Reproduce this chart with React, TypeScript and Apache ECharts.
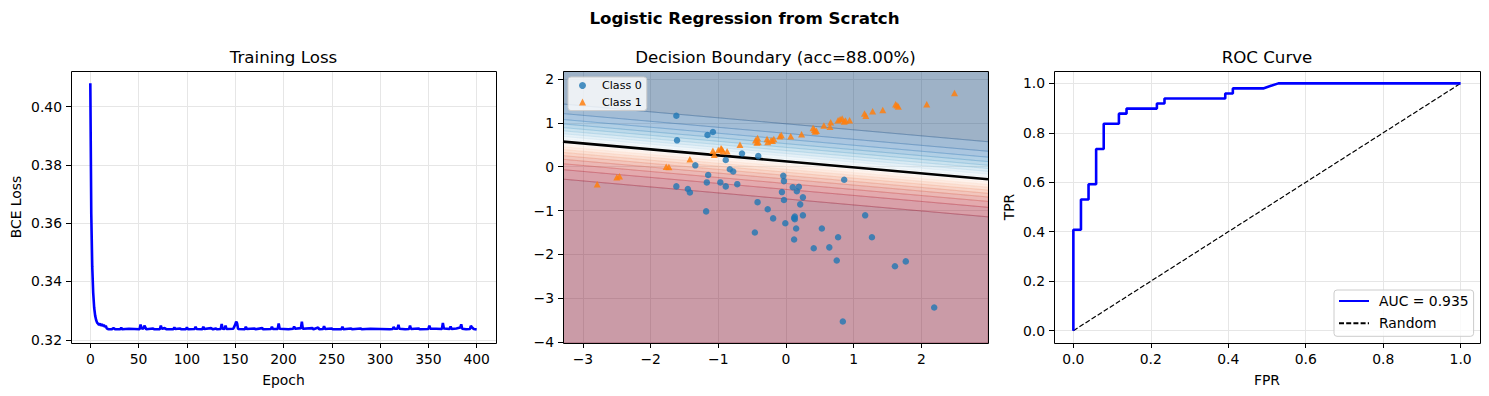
import React, { useEffect, useRef } from 'react';
import * as echarts from 'echarts';

// ---------------- data ----------------
const lossPoints: [number, number][] = [
  [0, 0.408], [1, 0.363], [2, 0.345], [3, 0.336], [4, 0.331], [5, 0.3283], [6, 0.3268], [7, 0.3259],
  [8, 0.3255], [9, 0.3251], [10, 0.3256], [11, 0.3248], [12, 0.3254], [13, 0.3247], [14, 0.3252],
  [15, 0.3244], [16, 0.3248], [17, 0.3239], [18, 0.3237], [19, 0.3236], [22, 0.3236], [24, 0.324],
  [26, 0.3236], [31, 0.3236], [32, 0.3242], [33, 0.3236], [40, 0.3238], [51, 0.3236], [52, 0.3252],
  [53, 0.324], [55, 0.3238], [56, 0.3249], [58, 0.3236], [65, 0.3239], [66, 0.3236], [72, 0.3236],
  [73, 0.3249], [74, 0.3238], [77, 0.324], [79, 0.3236], [86, 0.3236], [87, 0.3243], [88, 0.3237],
  [93, 0.3239], [94, 0.3236], [99, 0.3236], [100, 0.3243], [101, 0.3236], [108, 0.3237], [109, 0.3245],
  [110, 0.3237], [116, 0.3236], [117, 0.3245], [118, 0.3237], [125, 0.324], [127, 0.3236], [130, 0.3239],
  [131, 0.3236], [135, 0.3237], [136, 0.3254], [137, 0.3238], [139, 0.3237], [140, 0.3249], [141, 0.3237],
  [148, 0.3238], [150, 0.3252], [151, 0.3262], [152, 0.3256], [153, 0.3237], [160, 0.3236], [161, 0.3245],
  [162, 0.3237], [170, 0.3239], [171, 0.3236], [178, 0.324], [179, 0.3236], [187, 0.3237], [188, 0.3245],
  [189, 0.3237], [194, 0.3237], [195, 0.3256], [196, 0.3238], [205, 0.3236], [210, 0.3238], [211, 0.3245],
  [212, 0.3238], [218, 0.324], [219, 0.3262], [220, 0.3238], [230, 0.324], [231, 0.3236], [236, 0.3242],
  [237, 0.3236], [241, 0.3237], [242, 0.3247], [243, 0.3237], [250, 0.3239], [251, 0.3236], [260, 0.3236],
  [261, 0.3245], [262, 0.3236], [270, 0.3239], [271, 0.3236], [280, 0.3239], [281, 0.3236], [290, 0.3238],
  [300, 0.3237], [310, 0.3236], [313, 0.3237], [314, 0.3244], [315, 0.3238], [318, 0.3238], [319, 0.3251],
  [320, 0.3238], [326, 0.3236], [330, 0.3237], [331, 0.3249], [332, 0.3237], [340, 0.3239], [341, 0.3236],
  [350, 0.3237], [351, 0.3249], [352, 0.3238], [358, 0.3238], [364, 0.3237], [365, 0.3258], [366, 0.3239],
  [372, 0.3237], [373, 0.3246], [374, 0.3237], [379, 0.3239], [383, 0.3242], [384, 0.3253], [385, 0.3238],
  [389, 0.3236], [393, 0.3237], [394, 0.3248], [395, 0.3243], [397, 0.3237], [400, 0.3235],
];
const lossXTicks = [0, 50, 100, 150, 200, 250, 300, 350, 400];
const lossYTicks = [0.32, 0.34, 0.36, 0.38, 0.4];
const lossXRange = [-20, 420];
const lossYRange = [0.3189, 0.4122];

const class0Points: [number, number][] = [
  [-1.62, 1.16], [-1.61, 0.6], [-1.16, 0.72], [-1.08, 0.79], [-0.89, 0.15], [-0.65, 0.3], [-0.41, 0.24],
  [-1.34, 0.03], [-1.15, -0.19], [-1.17, -0.36], [-0.97, -0.36], [-0.89, -0.45], [-0.83, -0.06],
  [-0.78, -0.11], [-0.72, -0.4], [-1.62, -0.45], [-1.45, -0.51], [-1.42, -0.59], [-0.42, -0.81],
  [-0.27, -0.97], [-1.18, -1.02], [-0.06, -0.58], [-0.04, -0.21], [-0.03, -0.33], [0.1, -0.47],
  [0.19, -0.46], [0.16, -0.56], [0.25, -0.7], [-0.03, -0.76], [0.21, -0.86], [0.86, -0.3], [-0.19, -1.18],
  [-0.01, -1.29], [0.13, -1.14], [0.13, -1.2], [0.25, -1.11], [0.15, -1.41], [0.12, -1.66], [0.53, -1.41],
  [0.41, -1.86], [0.64, -1.84], [0.77, -1.61], [0.75, -2.14], [1.17, -1.11], [1.27, -1.61], [1.61, -2.27],
  [1.77, -2.16], [2.19, -3.21], [0.84, -3.53], [-0.46, -1.5], [0.12, -1.17],
];
const class1Points: [number, number][] = [
  [-2.79, -0.4], [-2.5, -0.24], [-2.46, -0.22], [-1.77, 0.0], [-1.73, -0.01], [-1.42, 0.17], [-1.08, 0.36],
  [-1.06, 0.27], [-0.95, 0.4], [-0.93, 0.35], [-0.87, 0.35], [-0.68, 0.5], [-0.42, 0.65], [-0.41, 0.56],
  [-0.43, 0.55], [-0.28, 0.63], [-0.27, 0.56], [-0.2, 0.59], [-0.18, 0.63], [-0.09, 0.69], [-0.07, 0.72],
  [0.07, 0.69], [0.23, 0.74], [0.4, 0.88], [0.43, 0.8], [0.45, 0.82], [0.56, 0.94], [0.65, 0.91],
  [0.66, 1.01], [0.77, 1.06], [0.83, 1.1], [0.86, 1.03], [0.94, 1.06], [1.16, 1.21], [1.18, 1.16],
  [1.28, 1.26], [1.43, 1.29], [1.62, 1.42], [1.66, 1.37], [2.08, 1.42], [2.49, 1.68], [-1.0, 0.38],
  [0.8, 1.08], [0.42, 0.84], [1.64, 1.4], [-0.45, 0.6], [-0.96, 0.42], [0.88, 1.05], [-0.22, 0.6],
];
const boundaryXTicks = [-3, -2, -1, 0, 1, 2];
const boundaryYTicks = [-4, -3, -2, -1, 0, 1, 2];
const boundaryXRange = [-3.295, 2.985];
const boundaryYRange = [-4.02, 2.18];
const modelWeights = [0.4706, 3.44];
const modelBias = -0.413;
const probLevels = [0, 0.05, 0.1, 0.15, 0.2, 0.25, 0.3, 0.35, 0.4, 0.45, 0.5, 0.55, 0.6, 0.65, 0.7, 0.75, 0.8, 0.85, 0.9, 0.95, 1.0];
const accuracy = 88.0;

const rocFpr = [0, 0, 0.0196, 0.0196, 0.0392, 0.0392, 0.0588, 0.0588, 0.0784, 0.0784, 0.1176, 0.1176, 0.1373, 0.1373, 0.2157, 0.2157, 0.2353, 0.2353, 0.3922, 0.3922, 0.4118, 0.4118, 0.4902, 0.5294, 1.0];
const rocTpr = [0, 0.4082, 0.4082, 0.5306, 0.5306, 0.5918, 0.5918, 0.7347, 0.7347, 0.8367, 0.8367, 0.8776, 0.8776, 0.898, 0.898, 0.9184, 0.9184, 0.9388, 0.9388, 0.9592, 0.9592, 0.9796, 0.9796, 1.0, 1.0];
const randomLine = [[0, 0], [1, 1]];
const rocTicks = [0, 0.2, 0.4, 0.6, 0.8, 1.0];
const rocRange = [-0.05, 1.05];
const aucValue = 0.935;

// ---------------- styling / layout ----------------
const FONT = 'DejaVu Sans';
const GRIDS = [
  { left: 71, top: 71, width: 425, height: 272 },
  { left: 563, top: 71, width: 425, height: 272 },
  { left: 1054, top: 71, width: 426, height: 272 },
];
const RDBU = [
  [103, 0, 31], [178, 24, 43], [214, 96, 77], [244, 165, 130], [253, 219, 199], [247, 247, 247],
  [209, 229, 240], [146, 197, 222], [67, 147, 195], [33, 102, 172], [5, 48, 97],
];
function rdbu(t: number): number[] {
  const s = Math.max(0, Math.min(1, t)) * 10;
  const i = Math.min(9, Math.floor(s));
  const f = s - i;
  return [0, 1, 2].map((k) => RDBU[i][k] + (RDBU[i + 1][k] - RDBU[i][k]) * f);
}
const rgba = (c: number[], a: number) => `rgba(${c[0].toFixed(0)},${c[1].toFixed(0)},${c[2].toFixed(0)},${a})`;
const minusFmt = (v: number) => (v < 0 ? '\u2212' + String(-v) : String(v));

function valueAxis(gridIndex: number, range: number[], ticks: number[], fmt: (v: number) => string, extra: any = {}) {
  return {
    type: 'value',
    gridIndex,
    min: range[0],
    max: range[1],
    axisLine: { show: false, onZero: false },
    axisTick: { show: true, length: 5, inside: false, lineStyle: { color: '#000', width: 1 }, customValues: ticks },
    axisLabel: { show: true, color: '#000', fontSize: 13.9, fontFamily: FONT, margin: 9, customValues: ticks, formatter: fmt },
    splitLine: { show: true, lineStyle: { color: '#e6e6e6', width: 1 } },
    nameTextStyle: { color: '#000', fontSize: 13.9, fontFamily: FONT },
    ...extra,
  };
}

export default function App() {
  const ref = useRef<HTMLDivElement>(null);
  useEffect(() => {
    document.body.style.margin = '0';
    if (!ref.current) return;
    const chart = echarts.init(ref.current, undefined, { renderer: 'svg' });
    const [w1, w2] = modelWeights;
    const yOnLevel = (p: number, x: number) => {
      if (p <= 0) return boundaryYRange[0];
      if (p >= 1) return boundaryYRange[1];
      const z = Math.log(p / (1 - p));
      const y = (z - modelBias - w1 * x) / w2;
      return Math.max(boundaryYRange[0], Math.min(boundaryYRange[1], y));
    };
    const bandData = probLevels.slice(0, -1).map((_, i) => [i, 0]);
    const boundaryLine = boundaryXRange.map((x) => [x, yOnLevel(0.5, x)]);
    const aucName = `AUC = ${aucValue.toFixed(3)}`;

    const titleText = (text: string, x: number, y: number, bold = false) => ({
      type: 'text',
      x,
      y,
      z: 100,
      style: {
        text,
        fill: '#000',
        fontFamily: FONT,
        fontSize: 16.67,
        fontWeight: bold ? 'bold' : 'normal',
        align: 'center',
        verticalAlign: 'middle',
        textAlign: 'center',
        textVerticalAlign: 'middle',
      },
    });
    const frames = GRIDS.map((g) => ({
      type: 'rect',
      z: 100,
      shape: { x: g.left + 0.5, y: g.top + 0.5, width: g.width, height: g.height },
      style: { fill: 'none', stroke: '#000', lineWidth: 1 },
      silent: true,
    }));

    const option: any = {
      animation: false,
      backgroundColor: '#fff',
      grid: GRIDS.map((g) => ({ ...g, containLabel: false })),
      xAxis: [
        valueAxis(0, lossXRange, lossXTicks, (v) => String(v), {
          splitNumber: 9,
          name: 'Epoch',
          nameLocation: 'middle',
          nameGap: 30,
        }),
        valueAxis(1, boundaryXRange, boundaryXTicks, minusFmt),
        valueAxis(2, rocRange, rocTicks, (v) => v.toFixed(1), { name: 'FPR', nameLocation: 'middle', nameGap: 30 }),
      ],
      yAxis: [
        valueAxis(0, lossYRange, lossYTicks, (v) => v.toFixed(2), { name: 'BCE Loss', nameLocation: 'middle', nameGap: 48 }),
        valueAxis(1, boundaryYRange, boundaryYTicks, minusFmt),
        valueAxis(2, rocRange, rocTicks, (v) => v.toFixed(1), { name: 'TPR', nameLocation: 'middle', nameGap: 38 }),
      ],
      legend: [
        {
          data: [{ name: 'Class 0', icon: 'circle' }, { name: 'Class 1', icon: 'triangle' }],
          orient: 'vertical',
          left: 568,
          top: 77,
          itemWidth: 7,
          itemHeight: 7,
          itemGap: 3.6,
          padding: [2, 5, 2, 11],
          backgroundColor: 'rgba(255,255,255,0.8)',
          borderColor: '#cccccc',
          borderWidth: 1,
          borderRadius: 3,
          textStyle: { color: '#000', fontSize: 11.1, fontFamily: FONT, lineHeight: 13, padding: [0, 0, 0, 11] },
          selectedMode: false,
        },
        {
          data: [
            { name: aucName, itemStyle: { opacity: 0 } },
            { name: 'Random', itemStyle: { opacity: 0 } },
          ],
          orient: 'vertical',
          left: 1334,
          top: 290,
          itemWidth: 30,
          itemHeight: 14,
          itemGap: 6.3,
          padding: [3, 5, 5, 4],
          backgroundColor: 'rgba(255,255,255,0.8)',
          borderColor: '#cccccc',
          borderWidth: 1,
          borderRadius: 3,
          itemStyle: { opacity: 0 },
          textStyle: { color: '#000', fontSize: 13.9, fontFamily: FONT, lineHeight: 16, padding: [0, 0, 0, 5] },
          selectedMode: false,
        },
      ],
      graphic: [
        titleText('Logistic Regression from Scratch', 744.5, 18, true),
        titleText('Training Loss', GRIDS[0].left + GRIDS[0].width / 2, 57),
        titleText(`Decision Boundary (acc=${accuracy.toFixed(2)}%)`, GRIDS[1].left + GRIDS[1].width / 2, 57),
        titleText('ROC Curve', GRIDS[2].left + GRIDS[2].width / 2, 57),
        ...frames,
      ],
      series: [
        {
          name: 'loss',
          type: 'line',
          xAxisIndex: 0,
          yAxisIndex: 0,
          data: lossPoints,
          symbol: 'none',
          showSymbol: false,
          lineStyle: { color: '#0000ff', width: 2.6 },
          itemStyle: { color: '#0000ff' },
          z: 3,
        },
        {
          name: 'contours',
          type: 'custom',
          xAxisIndex: 1,
          yAxisIndex: 1,
          data: bandData,
          clip: true,
          silent: true,
          z: 1,
          renderItem: (params: any, api: any) => {
            const i = api.value(0);
            const lo = probLevels[i];
            const hi = probLevels[i + 1];
            const x0 = boundaryXRange[0];
            const x1 = boundaryXRange[1];
            const pts = [
              [x0, yOnLevel(lo, x0)],
              [x1, yOnLevel(lo, x1)],
              [x1, yOnLevel(hi, x1)],
              [x0, yOnLevel(hi, x0)],
            ].map((p) => api.coord(p));
            const c = rdbu((lo + hi) / 2);
            return {
              type: 'polygon',
              shape: { points: pts },
              style: { fill: rgba(c, 0.4), stroke: rgba(c, 0.25), lineWidth: 0.9 },
            };
          },
        },
        {
          name: 'boundary',
          type: 'line',
          xAxisIndex: 1,
          yAxisIndex: 1,
          data: boundaryLine,
          symbol: 'none',
          lineStyle: { color: '#000', width: 2.6 },
          z: 3,
        },
        {
          name: 'Class 0',
          type: 'scatter',
          xAxisIndex: 1,
          yAxisIndex: 1,
          data: class0Points,
          symbol: 'circle',
          symbolSize: 6.5,
          itemStyle: { color: '#1f77b4', opacity: 0.8 },
          z: 4,
        },
        {
          name: 'Class 1',
          type: 'scatter',
          xAxisIndex: 1,
          yAxisIndex: 1,
          data: class1Points,
          symbol: 'triangle',
          symbolSize: [7, 6.5],
          itemStyle: { color: '#ff7f0e', opacity: 0.85 },
          z: 4,
        },
        {
          name: aucName,
          type: 'line',
          xAxisIndex: 2,
          yAxisIndex: 2,
          data: rocFpr.map((f, i) => [f, rocTpr[i]]),
          symbol: 'none',
          lineStyle: { color: '#0000ff', width: 2.6 },
          itemStyle: { color: '#0000ff' },
          z: 3,
        },
        {
          name: 'Random',
          type: 'line',
          xAxisIndex: 2,
          yAxisIndex: 2,
          data: randomLine,
          symbol: 'none',
          lineStyle: { color: '#000', width: 1.2, type: [5, 2.2] },
          itemStyle: { color: '#000' },
          z: 2,
        },
      ],
    };
    chart.setOption(option);
    return () => chart.dispose();
  }, []);
  return <div ref={ref} style={{ width: 1489, height: 396 }} />;
}
